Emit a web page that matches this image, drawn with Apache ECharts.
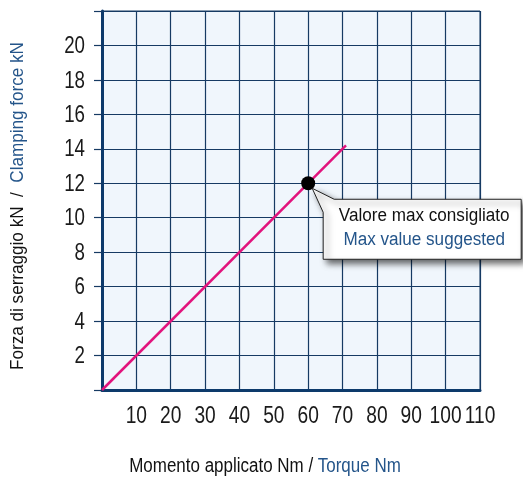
<!DOCTYPE html>
<html><head><meta charset="utf-8">
<script src="https://cdn.jsdelivr.net/npm/echarts@6/dist/echarts.min.js"></script>
<style>html,body{margin:0;padding:0;background:#fff}#c{width:523px;height:477px}</style>
</head><body><div id="c"></div>
<script>
const xTicks = [0,10,20,30,40,50,60,70,80,90,100,110];
const yTicks = [0,2,4,6,8,10,12,14,16,18,20,22];
const xLabels = ['10','20','30','40','50','60','70','80','90','100','110'];
const yLabels = ['2','4','6','8','10','12','14','16','18','20'];
const torque = [0, 71];
const force = [0, 14.2];
const maxPoint = [60, 12];
const calloutIt = 'Valore max consigliato';
const calloutEn = 'Max value suggested';
const yNameIt = 'Forza di serraggio kN  /  ';
const yNameEn = 'Clamping force kN';
const xNameIt = 'Momento applicato Nm / ';
const xNameEn = 'Torque Nm';

const FONT = '"Liberation Sans",Arial,sans-serif';
const NAVY = '#163a63';
const BLUE = '#24558a';

const chart = echarts.init(document.getElementById('c'));
chart.setOption({
  animation: false,
  grid: {left: 102, right: 43, top: 11, bottom: 87, show: true, backgroundColor: '#f0f6fc', borderColor: NAVY, borderWidth: 1},
  xAxis: {
    type: 'value', min: xTicks[0], max: xTicks[xTicks.length-1], interval: 10,
    axisLine: {lineStyle: {color: '#0d3a6b', width: 3}},
    axisTick: {show: false},
    splitLine: {lineStyle: {color: NAVY, width: 1.2}},
    axisLabel: {show: false}
  },
  yAxis: {
    type: 'value', min: yTicks[0], max: yTicks[yTicks.length-1], interval: 2,
    axisLine: {show: true, lineStyle: {color: '#0d3a6b', width: 3}},
    axisTick: {show: true, length: 8, lineStyle: {color: NAVY, width: 1.2}},
    splitLine: {lineStyle: {color: NAVY, width: 1.2}},
    axisLabel: {show: false}
  },
  series: [
    {type: 'line', data: torque.map((t,i)=>[t, force[i]]), symbol: 'none',
      lineStyle: {color: '#e2137c', width: 2.5}, z: 3},
    {type: 'scatter', data: [maxPoint], symbolSize: 14, itemStyle: {color: '#000', opacity: 1}, z: 10}
  ]
});

const g = [];
xLabels.forEach(l => {
  const x = chart.convertToPixel({xAxisIndex: 0}, Number(l));
  g.push({type: 'text', x: x, y: 416, scaleX: 0.8, z: 20,
    style: {text: l, align: 'center', verticalAlign: 'middle', fontSize: 24, fill: '#1a1a1a', fontFamily: FONT}});
});
yLabels.forEach(l => {
  const y = chart.convertToPixel({yAxisIndex: 0}, Number(l));
  g.push({type: 'text', x: 85, y: y + 1, scaleX: 0.78, z: 20,
    style: {text: l, align: 'right', verticalAlign: 'middle', fontSize: 24, fill: '#1a1a1a', fontFamily: FONT}});
});
g.push({type: 'text', x: 18, y: 206, rotation: Math.PI/2, scaleX: 0.95, z: 20,
  style: {text: '{a|' + yNameIt + '}{b|' + yNameEn + '}', align: 'center', verticalAlign: 'middle',
    rich: {a: {fontSize: 18, fill: '#111', fontFamily: FONT}, b: {fontSize: 18, fill: BLUE, fontFamily: FONT}}}});
g.push({type: 'text', x: 265, y: 467, scaleX: 0.87, z: 20,
  style: {text: '{a|' + xNameIt + '}{b|' + xNameEn + '}', align: 'center', verticalAlign: 'middle',
    rich: {a: {fontSize: 19.5, fill: '#111', fontFamily: FONT}, b: {fontSize: 19.5, fill: BLUE, fontFamily: FONT}}}});
const p = chart.convertToPixel({gridIndex: 0}, maxPoint);
const px = p[0], py = p[1];
const L = px + 15, T = py + 16, R = px + 213, B = py + 76;
g.push({type: 'polygon', z: 30,
  shape: {points: [[px+4, py+5], [L+11, T], [R, T], [R, B], [L, B], [L, T+13]]},
  style: {fill: '#fff', stroke: '#222', lineWidth: 1,
    shadowBlur: 6, shadowOffsetX: 4, shadowOffsetY: 4, shadowColor: 'rgba(0,0,0,0.6)'}});
g.push({type: 'text', z: 31, x: (L+R)/2 + 2, y: T + 17, scaleX: 0.95,
  style: {text: calloutIt, align: 'center', verticalAlign: 'middle', fontSize: 18, fill: '#111', fontFamily: FONT}});
g.push({type: 'text', z: 31, x: (L+R)/2 + 2, y: T + 41, scaleX: 0.95,
  style: {text: calloutEn, align: 'center', verticalAlign: 'middle', fontSize: 18, fill: BLUE, fontFamily: FONT}});
chart.setOption({graphic: g});
</script></body></html>
